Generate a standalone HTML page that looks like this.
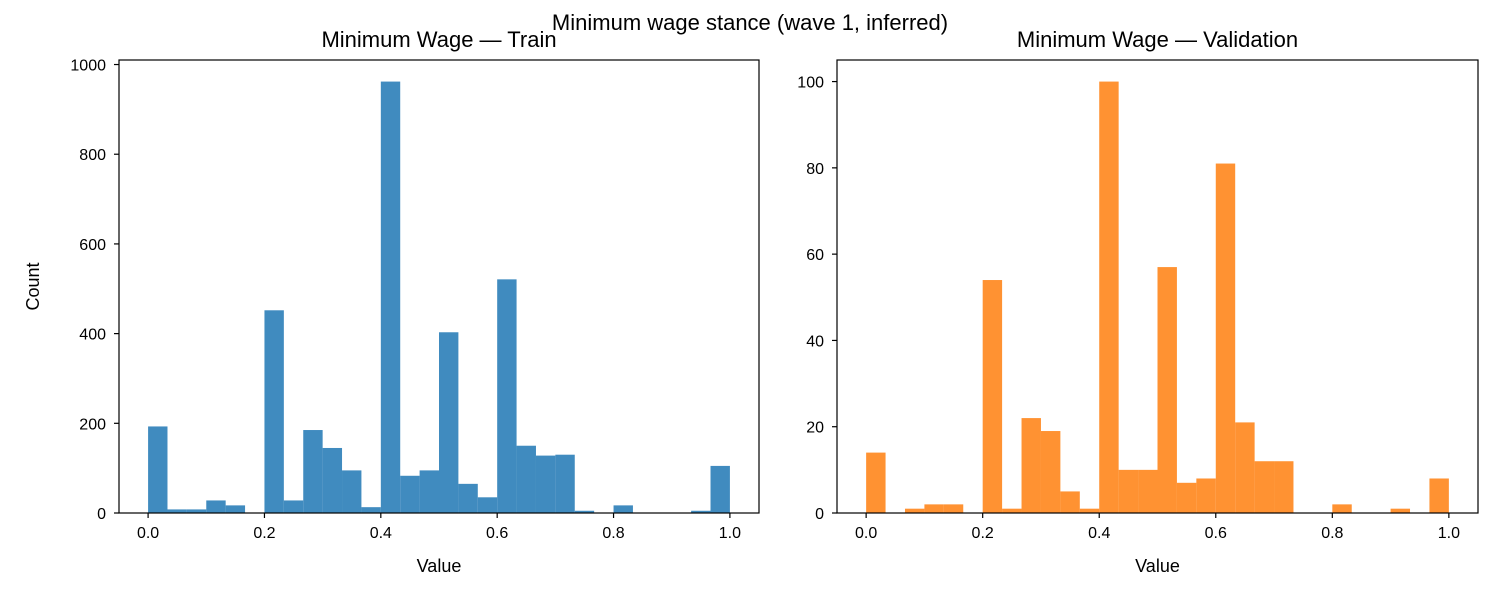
<!DOCTYPE html>
<html><head><meta charset="utf-8"><style>
body{margin:0;background:#fff;}
svg text{font-family:"Liberation Sans",sans-serif;fill:#000;}
</style></head><body>
<svg id="chart" width="1500" height="600" xmlns="http://www.w3.org/2000/svg">
<text x="750" y="30" font-size="22" text-anchor="middle">Minimum wage stance (wave 1, inferred)</text>
</svg>
<script>
const binEdgesStart = 0, binEdgesEnd = 1, binCount = 30;
const trainCounts = [193,8,8,28,17,0,452,28,185,145,95,13,962,83,95,403,65,35,521,150,128,130,5,0,17,0,0,0,5,105];
const valCounts = [14,0,1,2,2,0,54,1,22,19,5,1,100,10,10,57,7,8,81,21,12,12,0,0,2,0,0,1,0,8];
const xTicks = [0,0.2,0.4,0.6,0.8,1.0];
const trainYTicks = [0,200,400,600,800,1000];
const valYTicks = [0,20,40,60,80,100];
const NS="http://www.w3.org/2000/svg";
const svg=document.getElementById('chart');
function mk(tag,attrs,parent){const e=document.createElementNS(NS,tag);for(const k in attrs)e.setAttribute(k,attrs[k]);(parent||svg).appendChild(e);return e;}
function panel(opts){
  const {left,right,top,bottom,counts,yTicks,color,title,name,ylabel}=opts;
  const g=mk('g',{});
  
  
  const ymax=Math.max(...counts)*1.05;
  const xs=v=>left+(v+0.05)/1.1*(right-left);
  const ys=v=>bottom-v/ymax*(bottom-top);
  const w=(binEdgesEnd-binEdgesStart)/binCount;
  counts.forEach((c,i)=>{
    if(c<=0)return;
    const x0=xs(binEdgesStart+i*w),x1=xs(binEdgesStart+(i+1)*w);
    const r=mk('rect',{x:x0,y:ys(c),width:x1-x0,height:bottom-ys(c),fill:color,'fill-opacity':0.85},g);
    
    
  });
  const f=mk('rect',{x:left,y:top,width:right-left,height:bottom-top,fill:'none',stroke:'#000','stroke-width':1.2},g);
  
  
  xTicks.forEach(t=>{
    const x=xs(t);
    mk('line',{x1:x,x2:x,y1:bottom,y2:bottom+5,stroke:'#000','stroke-width':1.2},g);
    const tx=mk('text',{x:x,y:bottom+25,'font-size':16,'text-anchor':'middle'},g);
    tx.textContent=t.toFixed(1);
    
    
  });
  yTicks.forEach(t=>{
    const y=ys(t);
    mk('line',{x1:left-5,x2:left,y1:y,y2:y,stroke:'#000','stroke-width':1.2},g);
    const tx=mk('text',{x:left-13,y:y+6,'font-size':16,'text-anchor':'end'},g);
    tx.textContent=t;
    
    
  });
  const tt=mk('text',{x:(left+right)/2,y:top-13,'font-size':22,'text-anchor':'middle'},g);
  tt.textContent=title;
  
  
  const xl=mk('text',{x:(left+right)/2,y:bottom+59,'font-size':18,'text-anchor':'middle'},g);
  xl.textContent='Value';
  
  
  if(ylabel){
    const yl=mk('text',{x:39,y:(top+bottom)/2,'font-size':18,'text-anchor':'middle',transform:`rotate(-90 39 ${(top+bottom)/2})`},g);
    yl.textContent=ylabel;
    
    
  }
}
panel({left:119,right:759,top:60,bottom:513,counts:trainCounts,yTicks:trainYTicks,color:'#1f77b4',title:'Minimum Wage — Train',name:'train-histogram',ylabel:'Count'});
panel({left:837,right:1478,top:60,bottom:513,counts:valCounts,yTicks:valYTicks,color:'#ff7f0e',title:'Minimum Wage — Validation',name:'validation-histogram'});
</script>
</body></html>
